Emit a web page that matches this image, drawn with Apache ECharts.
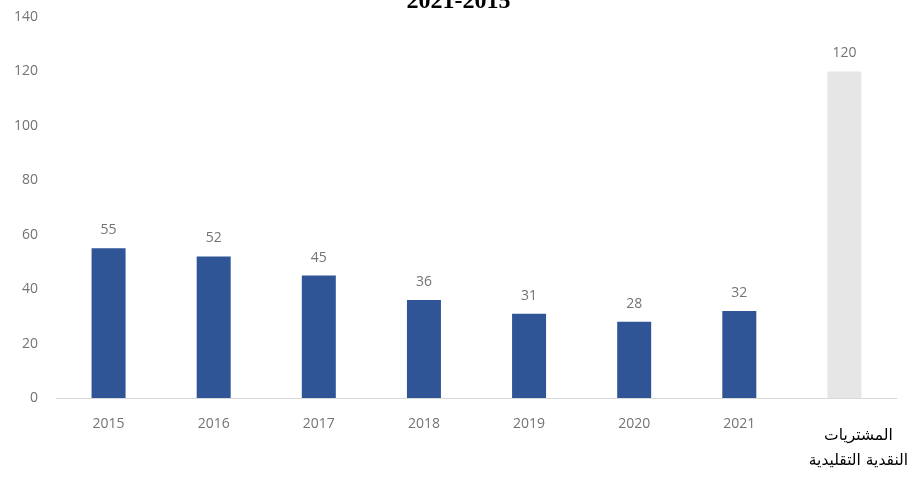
<!DOCTYPE html>
<html>
<head>
<meta charset="utf-8">
<script src="https://cdn.jsdelivr.net/npm/echarts@6/dist/echarts.min.js"></script>
<style>
  html, body { margin: 0; padding: 0; background: #fff; }
  #chart { width: 917px; height: 478px; }
</style>
</head>
<body>
<div id="chart"></div>
<script>
// values
const categories = ['2015', '2016', '2017', '2018', '2019', '2020', '2021', 'المشتريات\nالنقدية التقليدية'];
const values = [55, 52, 45, 36, 31, 28, 32, 120];
const yTicks = [0, 20, 40, 60, 80, 100, 120, 140];

const lastIdx = categories.length - 1;
const labelGray = '#737373';

const chart = echarts.init(document.getElementById('chart'));

const option = {
  animation: false,
  title: {
    text: '2021-2015',
    left: 'center',
    top: -15,
    textStyle: {
      fontFamily: 'Liberation Serif',
      fontWeight: 'bold',
      fontSize: 24,
      color: '#000'
    }
  },
  grid: { left: 56, right: 20, top: 17, bottom: 80, containLabel: false },
  xAxis: {
    type: 'category',
    data: categories,
    axisLine: { lineStyle: { color: '#d9d9d9', width: 1 } },
    axisTick: { show: false },
    axisLabel: {
      interval: 0,
      margin: 19,
      color: labelGray,
      fontFamily: 'Open Sans',
      fontSize: 14,
      formatter: (v, i) => i === lastIdx ? '{ar|' + v.split('\n').join('}\n{ar|') + '}' : v,
      rich: {
        ar: {
          color: '#000',
          fontFamily: 'DejaVu Sans',
          fontSize: 15.5,
          lineHeight: 25,
          align: 'center',
          padding: [12, 0, 0, 28]
        }
      }
    }
  },
  yAxis: {
    type: 'value',
    min: yTicks[0],
    max: yTicks[yTicks.length - 1],
    interval: 20,
    splitLine: { show: false },
    axisLine: { show: false },
    axisTick: { show: false },
    axisLabel: {
      margin: 18,
      color: labelGray,
      fontFamily: 'Open Sans',
      fontSize: 14
    }
  },
  series: [{
    type: 'bar',
    barWidth: 34,
    data: values.map((v, i) => ({
      value: v,
      itemStyle: { color: i === lastIdx ? '#e7e6e6' : '#2f5597' }
    })),
    label: {
      show: true,
      position: 'top',
      distance: 11,
      color: labelGray,
      fontFamily: 'Open Sans',
      fontSize: 14
    }
  }]
};

chart.setOption(option);
</script>
</body>
</html>
